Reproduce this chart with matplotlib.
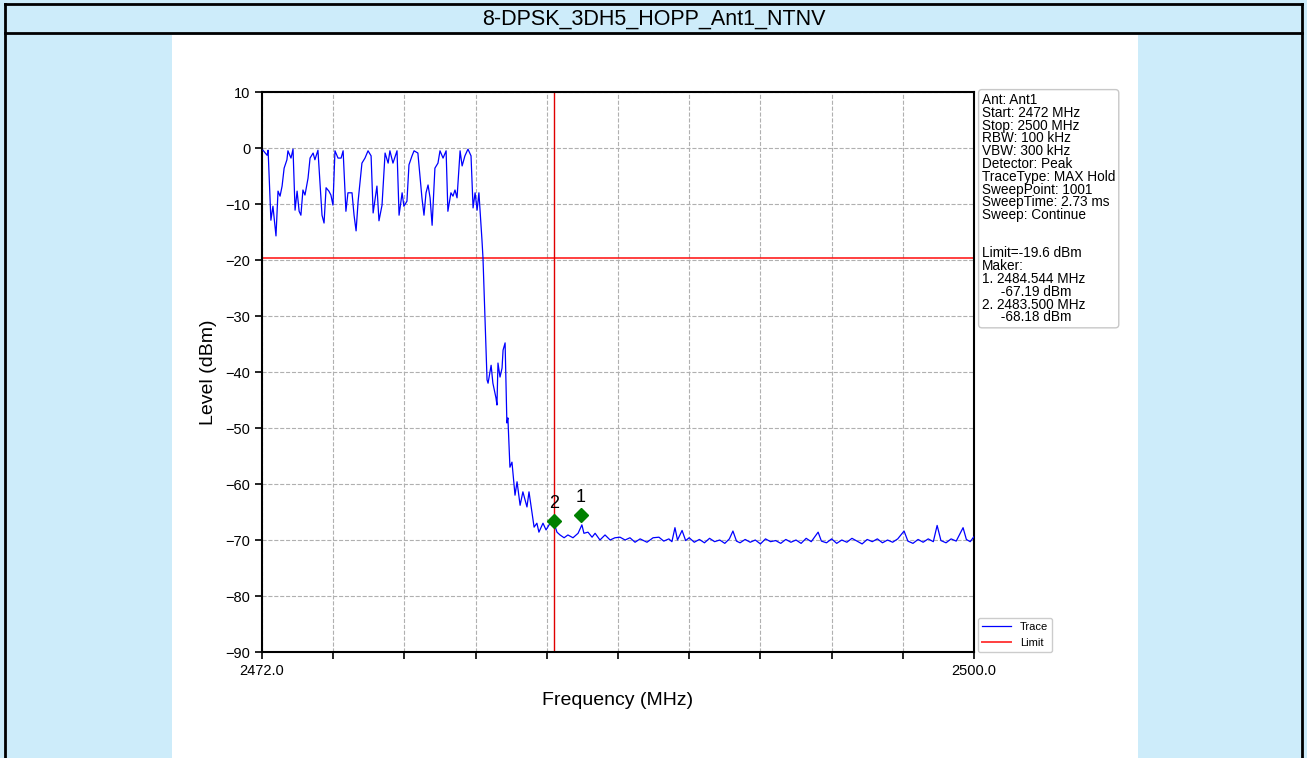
import numpy as np
import matplotlib.pyplot as plt
from matplotlib.lines import Line2D
from matplotlib.patches import Rectangle

plt.rcParams["font.family"] = ["Liberation Sans", "DejaVu Sans"]

page_title = "8-DPSK_3DH5_HOPP_Ant1_NTNV"

# hopping band (MHz, dBm)
hop_freq = [2472.04, 2472.20, 2472.24, 2472.35, 2472.43, 2472.55, 2472.63, 2472.71, 2472.79,
            2472.87, 2472.98, 2473.02, 2473.14, 2473.22, 2473.30, 2473.38, 2473.46, 2473.53,
            2473.61, 2473.69, 2473.81, 2473.89, 2474.01, 2474.08, 2474.20, 2474.36, 2474.44,
            2474.52, 2474.63, 2474.71, 2474.79, 2474.87, 2474.99, 2475.11, 2475.19, 2475.30,
            2475.38, 2475.54, 2475.62, 2475.70, 2475.78, 2475.93, 2476.05, 2476.17, 2476.29,
            2476.37, 2476.52, 2476.60, 2476.72, 2476.84, 2476.96, 2477.03, 2477.15, 2477.31,
            2477.39, 2477.51, 2477.58, 2477.70, 2477.78, 2477.90, 2477.98, 2478.13, 2478.29,
            2478.37, 2478.45, 2478.53, 2478.61, 2478.69, 2478.80, 2478.92, 2479.00, 2479.12,
            2479.24, 2479.31, 2479.43, 2479.51, 2479.59, 2479.67, 2479.79, 2479.87, 2479.98,
            2480.10, 2480.22, 2480.30, 2480.38, 2480.46, 2480.53]
hop_level = [-0.4, -1.3, -0.4, -12.9, -10.4, -15.7, -7.7, -8.6, -6.8,
             -3.6, -2.1, -0.5, -1.8, -0.2, -11.1, -7.7, -11.3, -12.0,
             -7.5, -8.4, -5.4, -1.8, -0.9, -2.1, -0.4, -12.0, -13.4,
             -7.1, -7.7, -8.4, -10.2, -0.5, -1.8, -1.8, -0.5, -11.3,
             -8.0, -8.0, -12.0, -14.8, -9.5, -2.7, -1.8, -0.5, -1.4,
             -11.6, -6.8, -13.0, -10.2, -0.9, -2.7, -0.5, -2.7, -0.5,
             -12.0, -8.0, -10.4, -9.5, -3.0, -1.4, -0.5, -0.9, -8.9,
             -12.0, -8.0, -6.6, -8.9, -13.8, -3.6, -2.7, -0.5, -1.8,
             -0.5, -11.3, -8.0, -8.6, -7.5, -8.9, -0.5, -3.2, -1.4,
             -0.2, -1.4, -10.7, -8.0, -11.1, -8.0]

# band edge skirt
skirt_freq = [2480.65, 2480.69, 2480.77, 2480.85, 2480.89, 2481.01, 2481.08, 2481.20, 2481.24,
              2481.28, 2481.36, 2481.44, 2481.48, 2481.56, 2481.63, 2481.67, 2481.75, 2481.83,
              2481.95, 2482.03, 2482.15, 2482.26, 2482.42, 2482.50, 2482.62, 2482.70, 2482.81,
              2482.89, 2483.05, 2483.17, 2483.29, 2483.44, 2483.60, 2483.72, 2483.88, 2484.03,
              2484.23, 2484.43, 2484.58, 2484.66, 2484.82, 2484.98, 2485.10, 2485.29, 2485.49,
              2485.69, 2485.88, 2486.08, 2486.28, 2486.47, 2486.67, 2486.87, 2487.14, 2487.38,
              2487.61]
skirt_level = [-16.4, -19.6, -30.7, -41.4, -42.0, -38.8, -42.0, -44.6, -45.9,
               -38.4, -40.9, -39.3, -36.1, -34.8, -49.1, -48.2, -57.0, -56.1,
               -62.0, -59.6, -63.8, -61.4, -64.1, -61.4, -65.2, -67.7, -67.0,
               -68.6, -67.0, -68.2, -67.3, -66.4, -68.6, -69.1, -69.6, -69.1,
               -69.6, -68.8, -67.3, -68.8, -68.6, -69.5, -68.8, -70.0, -69.1,
               -70.0, -69.6, -69.5, -70.0, -69.6, -70.4, -69.8, -70.4, -69.6,
               -69.5]

# noise floor
floor_freq = [2487.80, 2488.00, 2488.12, 2488.24, 2488.34, 2488.52, 2488.66, 2488.80, 2489.00,
              2489.20, 2489.40, 2489.60, 2489.80, 2490.00, 2490.20, 2490.38, 2490.52, 2490.66,
              2490.80, 2491.00, 2491.20, 2491.40, 2491.60, 2491.80, 2492.00, 2492.20, 2492.40,
              2492.60, 2492.80, 2493.00, 2493.20, 2493.40, 2493.60, 2493.87, 2494.00, 2494.20,
              2494.40, 2494.60, 2494.80, 2495.00, 2495.20, 2495.40, 2495.60, 2495.80, 2496.00,
              2496.20, 2496.40, 2496.60, 2496.80, 2497.00, 2497.25, 2497.40, 2497.60, 2497.80,
              2498.00, 2498.20, 2498.40, 2498.55, 2498.70, 2498.90, 2499.10, 2499.30, 2499.57,
              2499.70, 2499.85, 2500.00]
floor_level = [-70.2, -69.8, -70.3, -67.8, -70.0, -68.3, -70.1, -69.6, -70.4,
               -69.9, -70.5, -69.7, -70.3, -70.0, -70.6, -69.8, -68.4, -70.2,
               -70.5, -69.9, -70.4, -70.0, -70.7, -69.8, -70.3, -70.1, -70.6,
               -69.9, -70.4, -70.0, -70.6, -69.7, -70.3, -68.6, -70.2, -70.5,
               -69.8, -70.6, -70.0, -70.4, -69.7, -70.2, -70.7, -69.9, -70.3,
               -69.8, -70.5, -70.0, -70.4, -69.8, -68.4, -70.2, -70.6, -69.9,
               -70.4, -69.8, -70.3, -67.4, -70.1, -70.5, -69.8, -70.2, -67.8,
               -69.9, -70.3, -69.4]

limit_dbm = -19.6
band_edge_mhz = 2483.5
marker_freq = [2484.544, 2483.500]
marker_level = [-67.19, -68.18]
marker_names = ["1", "2"]

x_ticks = [2472.0, 2474.8, 2477.6, 2480.4, 2483.2, 2486.0, 2488.8, 2491.6, 2494.4, 2497.2, 2500.0]
x_tick_labels = ["2472.0", "", "", "", "", "", "", "", "", "", "2500.0"]
y_ticks = [10, 0, -10, -20, -30, -40, -50, -60, -70, -80, -90]

info_lines = [
    "Ant: Ant1",
    "Start: 2472 MHz",
    "Stop: 2500 MHz",
    "RBW: 100 kHz",
    "VBW: 300 kHz",
    "Detector: Peak",
    "TraceType: MAX Hold",
    "SweepPoint: 1001",
    "SweepTime: 2.73 ms",
    "Sweep: Continue",
    "",
    "",
    "Limit=-19.6 dBm",
    "Maker:",
    "1. 2484.544 MHz",
    "     -67.19 dBm",
    "2. 2483.500 MHz",
    "     -68.18 dBm",
]

# --------------------------- page ---------------------------------------------
W, H = 1307, 758
fig = plt.figure(figsize=(W / 100, H / 100), dpi=100)
fig.patch.set_facecolor("#cdecfa")


def fx(px):
    return px / W


def fy(py):
    return 1 - py / H


# white panel holding the plot
fig.add_artist(Rectangle((fx(172), fy(758)), fx(1138) - fx(172), fy(35) - fy(758),
                         transform=fig.transFigure, facecolor="white", edgecolor="none", zorder=0))
# frame of the page
for xs, ys in [((5, 1302), (4, 4)), ((5, 1302), (33, 33)), ((5, 5), (4, 758)), ((1302, 1302), (4, 758))]:
    fig.add_artist(Line2D([fx(xs[0]), fx(xs[1])], [fy(ys[0]), fy(ys[1])],
                          transform=fig.transFigure, color="black", linewidth=2))
fig.text(fx(654), fy(19), page_title, ha="center", va="center", fontsize=15.5, color="black")

# --------------------------- plot ---------------------------------------------
ax = fig.add_axes([fx(262), fy(652), fx(974) - fx(262), fy(92) - fy(652)])
freq = np.array(hop_freq + skirt_freq + floor_freq)
level = np.array(hop_level + skirt_level + floor_level)

ax.plot(freq, level, color="blue", linewidth=0.9, label="Trace", zorder=3)
ax.axhline(limit_dbm, color="red", linewidth=1.4, alpha=0.75, label="Limit", zorder=2)
ax.axvline(band_edge_mhz, color="#e00000", linewidth=1.0, zorder=2)

for f, v, name in zip(marker_freq, marker_level, marker_names):
    ax.plot(f, v + 1.6, marker="D", color="green", markersize=7.5, linestyle="none", zorder=4)
    ax.text(f, v + 3.2, name, ha="center", va="bottom", fontsize=13, zorder=4)

ax.set_xlim(2472, 2500)
ax.set_ylim(-90, 10)
ax.set_xticks(x_ticks)
ax.set_xticklabels(x_tick_labels)
ax.set_yticks(y_ticks)
ax.tick_params(labelsize=10.5, length=5, width=1.2)
ax.grid(True, linestyle="--", color="#b0b0b0", linewidth=0.8)
for sp in ax.spines.values():
    sp.set_linewidth(1.5)
ax.set_xlabel("Frequency (MHz)", fontsize=14, labelpad=10)
ax.set_ylabel("Level (dBm)", fontsize=14, labelpad=6)

ax.legend(loc="lower left", bbox_to_anchor=(1.005, 0.0), fontsize=8, handlelength=2.6,
          borderaxespad=0.0, framealpha=1.0)

fig.text(fx(982), fy(93), "\n".join(info_lines), ha="left", va="top", fontsize=9.8,
         linespacing=0.89,
         bbox=dict(boxstyle="round,pad=0.25", facecolor="white", edgecolor="#c8c8c8"))

fig.savefig("out.png", dpi=100, facecolor=fig.get_facecolor())
